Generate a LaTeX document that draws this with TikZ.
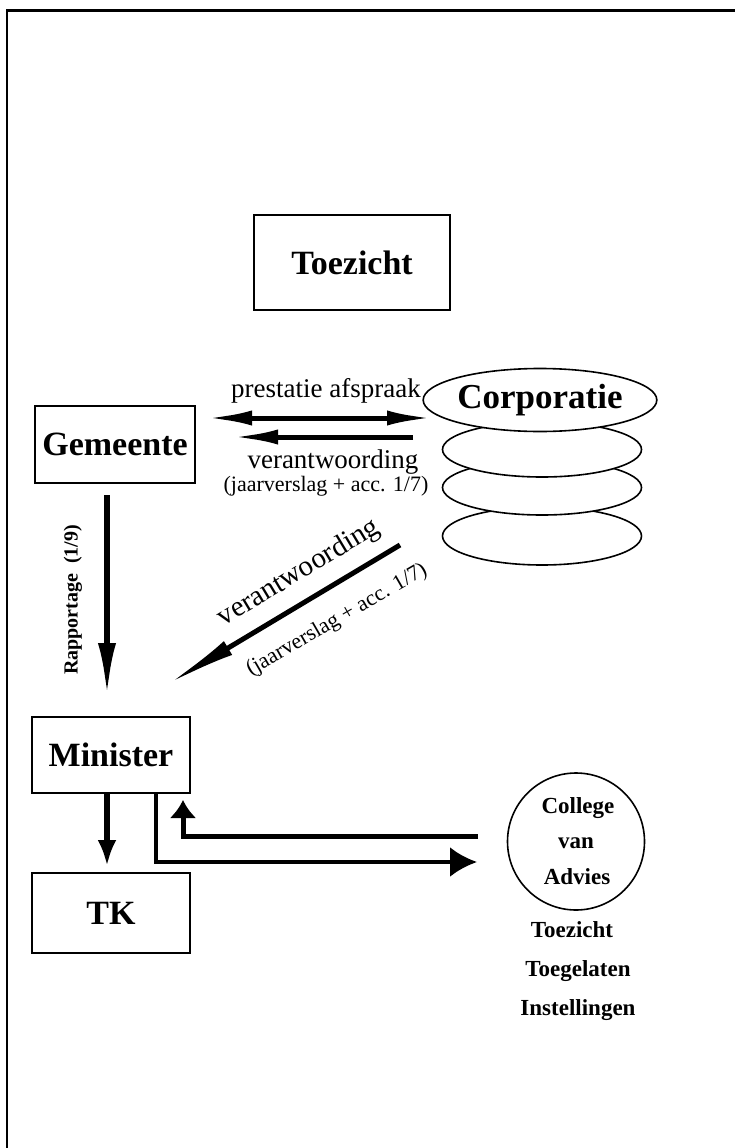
\documentclass[tikz,border=0pt]{standalone}
\usepackage{fontspec}
\setmainfont{Liberation Serif}
\usetikzlibrary{arrows.meta,shapes.geometric}
\begin{document}
\begin{tikzpicture}[x=1pt,y=-1pt,
  box/.style={draw, line width=1.8pt, rectangle, inner sep=0pt, font=\fontsize{34}{40}\selectfont\bfseries},
  disc/.style={draw, ellipse, line width=1.6pt, fill=white, inner sep=0pt, minimum width=199pt},
  lbl/.style={font=\fontsize{27}{30}\selectfont, inner sep=0pt},
  sublbl/.style={font=\fontsize{22}{25}\selectfont, inner sep=0pt},
  cva/.style={font=\fontsize{23}{26}\selectfont\bfseries, inner sep=0pt},
  shaft/.style={line width=5pt},
]
\useasboundingbox (0,0) rectangle (735,1148);
% frame
\draw[line width=1.5pt] (7,1148) -- (7,10.5);
\draw[line width=3pt] (6.25,10.5) -- (735,10.5);

% boxes
\node[box, minimum width=196pt, minimum height=95pt] (toez) at (352,262.5) {Toezicht};
\node[box, minimum width=160pt, minimum height=77pt] (gem) at (115,444.5) {Gemeente};
\node[box, minimum width=158pt, minimum height=76pt] (min) at (111,755) {Minister};
\node[box, minimum width=158pt, minimum height=80pt] (tk) at (111,913) {TK};

% corporatie stack
\node[disc, minimum height=58pt] (c4) at (542,536) {};
\node[disc, minimum height=55pt] (c3) at (542,487.5) {};
\node[disc, minimum height=55pt] (c2) at (542,449.5) {};
\node[disc, minimum height=63pt, font=\fontsize{35}{40}\selectfont\bfseries] (c1) at (540,400) {Corporatie};

% college van advies
\node[draw, circle, line width=1.6pt, minimum size=137pt, inner sep=0pt] (col) at (576,841.5) {};
\node[cva] (col1) at (578,808) {College};
\node[cva] (col2) at (576,843) {van};
\node[cva] (col3) at (577,877) {Advies};
\node[cva] (tt1) at (572,930) {Toezicht};
\node[cva] (tt2) at (578,971) {Toegelaten};
\node[cva] (tt3) at (578,1010) {Instellingen};

% coordinates for connector ends
\coordinate (pa1) at (207,418);
\coordinate (pa2) at (432,418);
\coordinate (va1) at (413,437);
\coordinate (va2) at (233,437);
\coordinate (rp1) at (107,495);
\coordinate (rp2) at (107,697);
\coordinate (dg1) at (400,545);
\coordinate (dg2) at (168,684);
\coordinate (mt1) at (107,793);
\coordinate (mt2) at (107,866);
\coordinate (ls1) at (156,793);
\coordinate (ls2) at (156,862);
\coordinate (ls3) at (477,862);
\coordinate (rt1) at (478,836);
\coordinate (rt2) at (183,836);
\coordinate (rt3) at (183,800);

% arrows
\draw[shaft, {Latex[length=45pt,width=15pt]}-{Latex[length=45pt,width=15pt]}] (pa1) -- (pa2);
\draw[shaft, -{Latex[length=45pt,width=15pt]}] (va1) -- (va2);
\draw[line width=6pt, -{Latex[length=54pt,width=18pt]}] (rp1) -- (rp2);
\draw[line width=5pt, -{Latex[length=70pt,width=16pt]}] (dg1) -- (dg2);
\draw[line width=6pt, -{Latex[length=26pt,width=19pt]}] (mt1) -- (mt2);
\draw[line width=4pt, -{Latex[length=27pt,width=30pt]}] (ls1) -- (ls2) -- (ls3);
\draw[line width=5pt, -{Latex[length=18pt,width=27pt]}] (rt1) -- (rt2) -- (rt3);

% labels
\node[lbl] (l1) at (326,391) {prestatie afspraak};
\node[lbl] (l2) at (333,462) {verantwoording};
\node[sublbl] (l3) at (326,486) {(jaarverslag + acc. 1/7)};
\node[font=\fontsize{20}{24}\selectfont\bfseries, inner sep=0pt, rotate=90] (l4) at (73,600) {Rapportage~~(1/9)};
\node[font=\fontsize{29}{32}\selectfont, inner sep=0pt, rotate=31] (l5) at (299,573) {verantwoording};
\node[font=\fontsize{22}{25}\selectfont, inner sep=0pt, rotate=30] (l6) at (337,620) {(jaarverslag + acc. 1/7)};
\end{tikzpicture}
\end{document}
